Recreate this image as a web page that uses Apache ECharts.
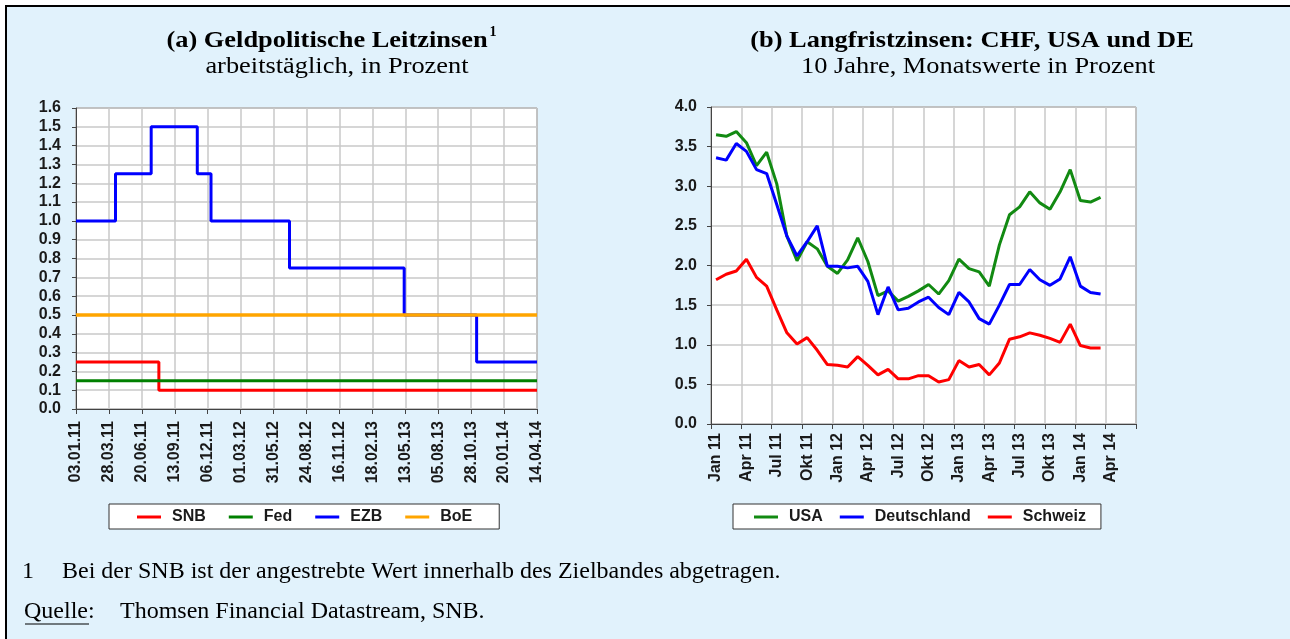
<!DOCTYPE html>
<html>
<head>
<meta charset="utf-8">
<title>Leitzinsen und Langfristzinsen</title>
<script src="https://cdn.jsdelivr.net/npm/echarts@6/dist/echarts.min.js"></script>
<style>
  html, body { margin: 0; padding: 0; background: #fff; }
  #main { width: 1290px; height: 639px; }
</style>
</head>
<body>
<div id="main"></div>
<script>
// (a) Leitzinsen: Stufen, x = Arbeitstag seit 03.01.11
var tickLabelsA = ['03.01.11','28.03.11','20.06.11','13.09.11','06.12.11','01.03.12','31.05.12',
  '24.08.12','16.11.12','18.02.13','13.05.13','05.08.13','28.10.13','20.01.14','14.04.14'];
var snbDays = [0, 151, 840];
var snbRates = [0.25, 0.1, 0.1];
var fedDays = [0, 840];
var fedRates = [0.15, 0.15];
var ezbDays = [0, 72, 137, 221, 246, 389, 598, 730, 840];
var ezbRates = [1.0, 1.25, 1.5, 1.25, 1.0, 0.75, 0.5, 0.25, 0.25];
var boeDays = [0, 840];
var boeRates = [0.5, 0.5];

// (b) Langfristzinsen, Monatswerte
var monthNames = ['Jan','Feb','Mär','Apr','Mai','Jun','Jul','Aug','Sep','Okt','Nov','Dez'];
var usa = [3.65,3.63,3.69,3.55,3.26,3.43,3.03,2.37,2.06,2.30,2.21,1.99,1.90,2.07,2.35,2.05,
  1.62,1.68,1.55,1.61,1.68,1.76,1.64,1.81,2.08,1.96,1.92,1.74,2.26,2.64,2.74,2.93,2.79,2.71,
  2.93,3.21,2.82,2.80,2.86];
var deutschland = [3.36,3.33,3.54,3.44,3.21,3.16,2.77,2.37,2.12,2.30,2.50,1.99,1.99,1.97,1.99,
  1.80,1.38,1.73,1.44,1.46,1.54,1.60,1.47,1.38,1.66,1.54,1.33,1.26,1.50,1.76,1.76,1.95,1.82,
  1.75,1.83,2.11,1.74,1.66,1.64];
var schweiz = [1.82,1.89,1.93,2.08,1.85,1.74,1.44,1.15,1.01,1.09,0.93,0.75,0.74,0.72,0.85,0.74,
  0.62,0.69,0.57,0.57,0.61,0.61,0.53,0.56,0.80,0.72,0.75,0.62,0.77,1.07,1.10,1.15,1.12,1.08,
  1.03,1.26,0.99,0.96,0.96];

var months = [];
for (var y = 11; y <= 14; y++) {
  for (var m = 0; m < 12; m++) {
    if (months.length < 42) months.push(monthNames[m] + ' ' + y);
  }
}

function pairs(xs, ys) {
  return xs.map(function (x, i) { return [x, ys[i]]; });
}

var sans = 'Liberation Sans, Arial, sans-serif';
var serif = 'Liberation Serif, Times New Roman, serif';
var bg = '#e1f2fc';

var labelStyle = { fontFamily: sans, fontWeight: 'bold', fontSize: 16, color: '#1a1a1a' };
var legendText = { fontFamily: sans, fontWeight: 'bold', fontSize: 16, color: '#1a1a1a', padding: [0, 0, 0, 6] };
var axisLineStyle = { lineStyle: { color: '#444', width: 1 } };
var gridLine = { show: true, lineStyle: { color: '#c9c9c9', width: 1.5 } };

// Titel etwas breiter laufen lassen, wie im Original
function title(txt, x, y, bold) {
  return { type: 'text', x: x, y: y, scaleX: 1.1,
    style: { text: txt, font: (bold ? 'bold ' : '') + '24px ' + serif, fill: '#000',
      textAlign: 'center', textVerticalAlign: 'middle' } };
}
function note(txt, x, y) {
  return { type: 'text', x: x, y: y,
    style: { text: txt, font: '24px ' + serif, fill: '#000', textVerticalAlign: 'middle' } };
}

var myChart = echarts.init(document.getElementById('main'));
var option = {
  backgroundColor: '#fff',
  animation: false,
  graphic: [
    { type: 'rect', shape: { x: 6, y: 6, width: 1400, height: 800 }, z: -10,
      style: { fill: bg, stroke: '#000', lineWidth: 2 } },
    title('(a) Geldpolitische Leitzinsen', 327, 41, true),
    { type: 'text', x: 493, y: 32, style: { text: '1', font: 'bold 14px ' + serif,
      fill: '#000', textAlign: 'center', textVerticalAlign: 'middle' } },
    title('arbeitstäglich, in Prozent', 337, 67, false),
    title('(b) Langfristzinsen: CHF, USA und DE', 972, 41, true),
    title('10 Jahre, Monatswerte in Prozent', 978, 67, false),
    note('1', 22, 572),
    note('Bei der SNB ist der angestrebte Wert innerhalb des Zielbandes abgetragen.', 62, 572),
    note('Quelle:', 24, 612),
    { type: 'line', shape: { x1: 25, y1: 624, x2: 89, y2: 624 }, style: { stroke: '#000', lineWidth: 1.2 } },
    note('Thomsen Financial Datastream, SNB.', 120, 612)
  ],
  legend: [
    {
      data: ['SNB', 'Fed', 'EZB', 'BoE'],
      left: 109, top: 504,
      itemWidth: 24, itemHeight: 3, itemGap: 23, icon: 'rect',
      padding: [5, 27, 4, 28],
      backgroundColor: '#fff', borderColor: '#333', borderWidth: 1,
      textStyle: legendText
    },
    {
      data: ['USA', 'Deutschland', 'Schweiz'],
      left: 733, top: 504,
      itemWidth: 24, itemHeight: 3, itemGap: 17, icon: 'rect',
      padding: [5, 15, 4, 21],
      backgroundColor: '#fff', borderColor: '#333', borderWidth: 1,
      textStyle: legendText
    }
  ],
  grid: [
    { left: 76, right: 753, top: 108, bottom: 230, show: true, backgroundColor: '#fff',
      borderColor: '#666', borderWidth: 1 },
    { left: 711, right: 154, top: 107, bottom: 215, show: true, backgroundColor: '#fff',
      borderColor: '#666', borderWidth: 1 }
  ],
  xAxis: [
    {
      gridIndex: 0, type: 'value', min: 0, max: 840, interval: 60,
      axisLine: axisLineStyle,
      axisTick: { show: true, length: 5, lineStyle: { color: '#444' } },
      splitLine: gridLine,
      axisLabel: Object.assign({ rotate: 90, margin: 12, showMaxLabel: true,
        formatter: function (v) { return tickLabelsA[Math.round(v / 60)]; } }, labelStyle)
    },
    {
      gridIndex: 1, type: 'category', data: months, boundaryGap: true,
      axisLine: axisLineStyle,
      axisTick: { show: true, length: 5, interval: 2, lineStyle: { color: '#444' } },
      splitLine: { show: true, interval: 2, lineStyle: { color: '#c9c9c9', width: 1.5 } },
      axisLabel: Object.assign({ rotate: 90, margin: 9, interval: 2 }, labelStyle)
    }
  ],
  yAxis: [
    {
      gridIndex: 0, type: 'value', min: 0, max: 1.6, interval: 0.1,
      axisLine: { show: true, lineStyle: { color: '#444' } },
      axisTick: { show: true, length: 4, lineStyle: { color: '#444' } },
      splitLine: gridLine,
      axisLabel: Object.assign({ margin: 15, formatter: function (v) { return v.toFixed(1); } }, labelStyle)
    },
    {
      gridIndex: 1, type: 'value', min: 0, max: 4, interval: 0.5,
      axisLine: { show: true, lineStyle: { color: '#444' } },
      axisTick: { show: true, length: 4, lineStyle: { color: '#444' } },
      splitLine: gridLine,
      axisLabel: Object.assign({ margin: 14, formatter: function (v) { return v.toFixed(1); } }, labelStyle)
    }
  ],
  series: [
    { name: 'SNB', type: 'line', xAxisIndex: 0, yAxisIndex: 0, step: 'end', symbol: 'none',
      data: pairs(snbDays, snbRates), color: '#ff0000', lineStyle: { width: 3 } },
    { name: 'Fed', type: 'line', xAxisIndex: 0, yAxisIndex: 0, step: 'end', symbol: 'none',
      data: pairs(fedDays, fedRates), color: '#008000', lineStyle: { width: 3 } },
    { name: 'EZB', type: 'line', xAxisIndex: 0, yAxisIndex: 0, step: 'end', symbol: 'none',
      data: pairs(ezbDays, ezbRates), color: '#0000ff', lineStyle: { width: 3 } },
    { name: 'BoE', type: 'line', xAxisIndex: 0, yAxisIndex: 0, step: 'end', symbol: 'none',
      data: pairs(boeDays, boeRates), color: '#ffa500', lineStyle: { width: 3.6 } },
    { name: 'USA', type: 'line', xAxisIndex: 1, yAxisIndex: 1, symbol: 'none',
      data: usa, color: '#128a12', lineStyle: { width: 3 } },
    { name: 'Deutschland', type: 'line', xAxisIndex: 1, yAxisIndex: 1, symbol: 'none',
      data: deutschland, color: '#0000ff', lineStyle: { width: 3 } },
    { name: 'Schweiz', type: 'line', xAxisIndex: 1, yAxisIndex: 1, symbol: 'none',
      data: schweiz, color: '#ff0000', lineStyle: { width: 3 } }
  ]
};
myChart.setOption(option);
</script>
</body>
</html>
